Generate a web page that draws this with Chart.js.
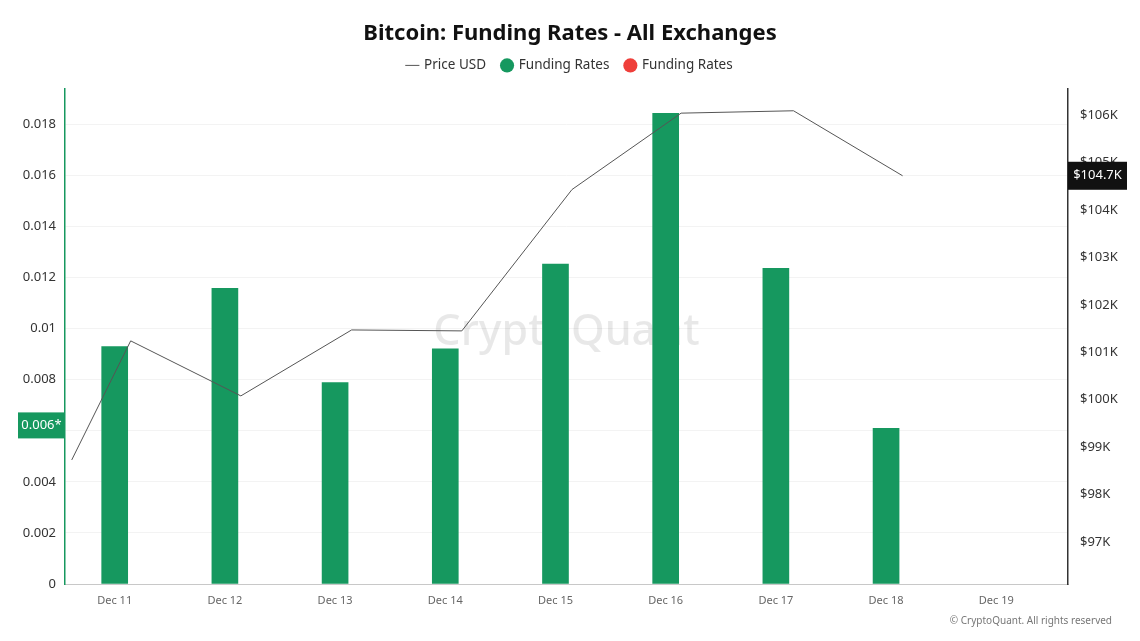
<!DOCTYPE html>
<html><head><meta charset="utf-8">
<script src="https://cdn.jsdelivr.net/npm/chart.js@4.4.1/dist/chart.umd.min.js"></script>
<style>html,body{margin:0;padding:0;background:#fff;}#wrap{width:1140px;height:641px;}</style>
</head><body><div id="wrap"><canvas id="c" width="1140" height="641"></canvas></div>
<script>
// ---- data ----
const dayNumbers = [11, 12, 13, 14, 15, 16, 17, 18, 19];
const dayLabels = ['Dec 11', 'Dec 12', 'Dec 13', 'Dec 14', 'Dec 15', 'Dec 16', 'Dec 17', 'Dec 18', 'Dec 19'];
const fundingRates = [0.00929, 0.01157, 0.00788, 0.00920, 0.01252, 0.01842, 0.01236, 0.00609, null];
const priceDays = [10.61, 11.145, 12.145, 13.15, 14.15, 15.15, 16.14, 17.16, 18.15];
const priceUSD = [98730, 101240, 100080, 101470, 101450, 104430, 106040, 106090, 104720];
const leftTicks = [0, 0.002, 0.004, 0.006, 0.008, 0.01, 0.012, 0.014, 0.016, 0.018];
const rightTicks = [97000, 98000, 99000, 100000, 101000, 102000, 103000, 104000, 105000, 106000];

const GREEN = '#16985f';
const RED = '#ef3f3a';
const FONT = "'Noto Sans', 'Open Sans', sans-serif";

const posData = dayNumbers.map((d, i) => ({x: d, y: fundingRates[i] !== null && fundingRates[i] >= 0 ? fundingRates[i] : null}));
const negData = dayNumbers.map((d, i) => ({x: d, y: fundingRates[i] !== null && fundingRates[i] < 0 ? fundingRates[i] : null}));
const priceData = priceDays.map((d, i) => ({x: d, y: priceUSD[i]}));

const decor = {
  id: 'decor',
  beforeDatasetsDraw(chart) {
    const {ctx, chartArea: a} = chart;
    ctx.save();
    ctx.font = '500 43px ' + FONT;
    ctx.fillStyle = 'rgba(0,0,0,0.09)';
    ctx.textAlign = 'center';
    ctx.textBaseline = 'middle';
    ctx.fillText('CryptoQuant', (a.left + a.right) / 2, (a.top + a.bottom) / 2 - 4);
    ctx.restore();
  },
  afterDraw(chart) {
    const {ctx, chartArea: a, scales} = chart;
    ctx.save();
    // last funding value marker
    const lastF = fundingRates.filter(v => v !== null).slice(-1)[0];
    const yF = scales.yL.getPixelForValue(lastF) - 3;
    ctx.fillStyle = GREEN;
    ctx.fillRect(18, yF - 13, a.left - 18, 26);
    ctx.fillStyle = '#fff';
    ctx.font = '13px ' + FONT;
    ctx.textAlign = 'center';
    ctx.textBaseline = 'middle';
    ctx.fillText(lastF.toFixed(3) + '*', (18 + a.left) / 2, yF);
    // last price marker
    const lastP = priceUSD[priceUSD.length - 1];
    const yP = scales.yR.getPixelForValue(lastP);
    ctx.fillStyle = '#111';
    ctx.fillRect(a.right, yP - 14, 59, 28);
    ctx.fillStyle = '#fff';
    ctx.fillText('$' + (lastP / 1000).toFixed(1) + 'K', a.right + 29.5, yP);
    // footer
    ctx.fillStyle = '#777';
    ctx.font = '10px ' + FONT;
    ctx.textAlign = 'right';
    ctx.fillText('\u00A9 CryptoQuant. All rights reserved', 1112, 621);
    ctx.restore();
  }
};

new Chart(document.getElementById('c'), {
  data: {
    datasets: [
      {type: 'line', label: 'Price USD', data: priceData, yAxisID: 'yR', xAxisID: 'x',
       borderColor: '#555', backgroundColor: '#555', borderWidth: 1, pointRadius: 0,
       pointStyle: 'line', tension: 0, order: 0},
      {type: 'bar', label: 'Funding Rates', data: posData, yAxisID: 'yL', xAxisID: 'x',
       backgroundColor: GREEN, borderColor: GREEN, barThickness: 26, grouped: false,
       pointStyle: 'circle', order: 1},
      {type: 'bar', label: 'Funding Rates', data: negData, yAxisID: 'yL', xAxisID: 'x',
       backgroundColor: RED, borderColor: RED, barThickness: 26, grouped: false,
       pointStyle: 'circle', order: 2}
    ]
  },
  options: {
    responsive: false,
    animation: false,
    devicePixelRatio: 1,
    layout: {padding: {left: 0, right: 0, top: 0, bottom: 0}},
    plugins: {
      title: {display: true, text: 'Bitcoin: Funding Rates - All Exchanges',
        color: '#111', font: {family: FONT, size: 22, weight: 'bold', lineHeight: 0.4545},
        padding: {top: 29, bottom: 3.65}},
      subtitle: {display: true, text: ' ', position: 'top', weight: 500,
        font: {size: 1, lineHeight: 1}, padding: {top: 5.85, bottom: 0}},
      legend: {display: true, position: 'top',
        labels: {usePointStyle: true, boxWidth: 10, boxHeight: 10, color: '#333', padding: 16,
          font: {family: FONT, size: 13.5}}},
      tooltip: {enabled: false}
    },
    scales: {
      x: {type: 'linear', position: 'bottom', min: 10.549, max: 19.651, offset: false,
        afterBuildTicks: s => { s.ticks = dayNumbers.map(v => ({value: v})); },
        afterFit: s => { s.height = 57; },
        ticks: {color: '#666', font: {family: FONT, size: 11}, padding: 10, autoSkip: false, maxRotation: 0,
          callback: v => dayLabels[dayNumbers.indexOf(v)]},
        grid: {display: false, drawTicks: false, offset: false},
        border: {display: true, color: '#c8c8c8', dash: [2, 2], width: 1}},
      yL: {type: 'linear', position: 'left', min: 0, max: 0.019374,
        afterBuildTicks: s => { s.ticks = leftTicks.map(v => ({value: v})); },
        afterFit: s => { s.width = 65; },
        ticks: {color: '#333', font: {family: FONT, size: 13}, padding: 9,
          callback: v => String(+v.toFixed(4))},
        grid: {color: '#f3f3f3', drawTicks: false},
        border: {display: true, color: GREEN, width: 1.5}},
      yR: {type: 'linear', position: 'right', min: 96115, max: 106549,
        afterBuildTicks: s => { s.ticks = rightTicks.map(v => ({value: v})); },
        afterFit: s => { s.width = 72; },
        ticks: {color: '#333', font: {family: FONT, size: 13}, padding: 12,
          callback: v => '$' + (v / 1000) + 'K'},
        grid: {display: false, drawTicks: false},
        border: {display: true, color: '#333', width: 1.5}}
    }
  },
  plugins: [decor]
});
</script></body></html>
